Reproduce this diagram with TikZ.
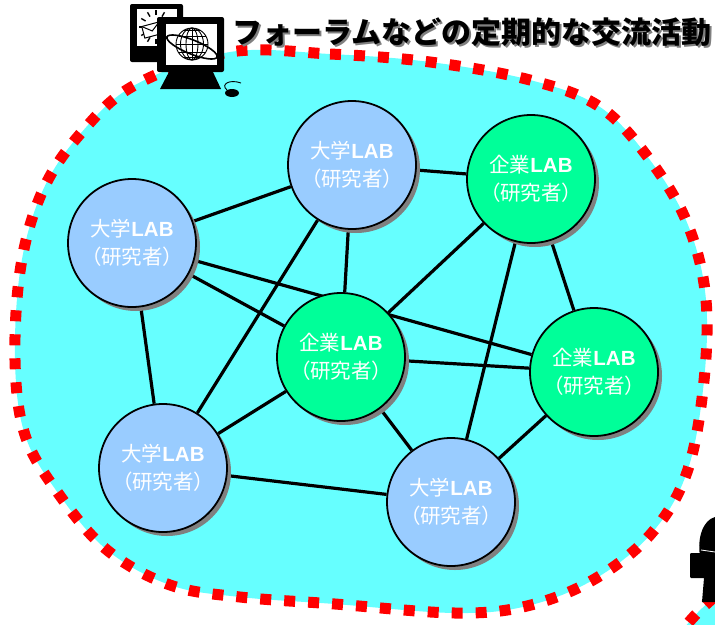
\documentclass[tikz,border=0pt]{standalone}
\usepackage{fontspec}
\newfontfamily\jpfont{Noto Sans CJK JP}
\newfontfamily\jppfont{Noto Sans CJK JP}[RawFeature=+palt]
\newfontfamily\latinfont{Liberation Sans}
\usetikzlibrary{shadows,backgrounds}

\definecolor{areacyan}{HTML}{66FFFF}
\definecolor{dashred}{HTML}{FF0000}
\definecolor{univblue}{HTML}{99CCFF}
\definecolor{corpgreen}{HTML}{00FF99}
\definecolor{shadowgray}{HTML}{808080}

\tikzset{
  lab/.style={circle, draw=black, line width=1.8pt, minimum size=128pt, inner sep=0pt,
    text=white, align=center,
    font=\fontsize{20.5}{28}\selectfont,
    drop shadow={shadow xshift=4pt, shadow yshift=-4pt, fill=shadowgray, opacity=1}},
  univ/.style={lab, fill=univblue},
  corp/.style={lab, fill=corpgreen},
  link/.style={line width=3.2pt, black},
  border/.style={dashred, line width=11pt, dash pattern=on 11pt off 13pt},
}
\newcommand{\univtext}{{\jpfont 大学}{\latinfont\bfseries LAB}\\{\jppfont （研究者）}}
\newcommand{\corptext}{{\jpfont 企業}{\latinfont\bfseries LAB}\\{\jppfont （研究者）}}
% text with a soft gray drop shadow behind it
\newcommand{\shadowed}[1]{\makebox[0pt][l]{\hspace{2pt}\raisebox{-2.5pt}{\textcolor{shadowgray}{#1}}}#1}

\begin{document}
\begin{tikzpicture}[x=1pt,y=-1pt]
\useasboundingbox (0,0) rectangle (715,624);

% research labs
\node[univ] (u1) at (352,165) {\univtext};
\node[corp] (c1) at (531,179) {\corptext};
\node[univ] (u0) at (132,243) {\univtext};
\node[corp] (c0) at (341,357) {\corptext};
\node[corp] (c2) at (594,372) {\corptext};
\node[univ] (u2) at (163,468) {\univtext};
\node[univ] (u3) at (451,502) {\univtext};

\begin{scope}[on background layer]
  % exchange area
  \def\areapath{plot[smooth cycle, tension=0.6] coordinates {
    (230,52) (330,54) (430,62) (530,80) (600,107) (650,160) (688,225) (706,300)
    (703,390) (686,475) (650,535) (593,580) (527,606) (455,613) (335,604)
    (240,597) (170,585) (107,550) (58,493) (25,435) (15,360) (21,265)
    (43,190) (81,133) (135,85)}}
  \fill[areacyan] \areapath;
  \draw[border] \areapath;
  % neighbouring area at the lower right
  \begin{scope}
    \clip (0,0) rectangle (715,624);
    \fill[areacyan] (850,760) circle[radius=212];
    \draw[border] (850,760) circle[radius=212];
  \end{scope}
  % links between labs
  \draw[link] (u0) -- (u1);
  \draw[link] (u1) -- (c1);
  \draw[link] (u1) -- (c0);
  \draw[link] (u1) -- (u2);
  \draw[link] (u0) -- (c2);
  \draw[link] (u0) -- (c0);
  \draw[link] (u0) -- (u2);
  \draw[link] (c1) -- (c0);
  \draw[link] (c1) -- (u3);
  \draw[link] (c1) -- (c2);
  \draw[link] (c0) -- (c2);
  \draw[link] (c0) -- (u2);
  \draw[link] (c0) -- (u3);
  \draw[link] (u2) -- (u3);
  \draw[link] (c2) -- (u3);
\end{scope}

% title
\node[text=black, font=\jpfont\bfseries\fontsize{30}{30}\selectfont] (title) at (472,33)
  {\shadowed{フォーラムなどの定期的な交流活動}};

% back monitor with clock and mail
\fill[black, rounded corners=2pt] (130,4) rectangle (183,62);
\fill[white] (137,9) rectangle (177,46);
\foreach \a in {0,30,...,330} \draw[black, line width=1.4pt] (156,27) ++(\a:12) -- ++(\a:5);
\fill[white, draw=black, line width=1pt, rotate around={15:(152,30)}] (143,24) rectangle (161,36);
\draw[black, line width=1pt, rotate around={15:(152,30)}] (143,24) -- (152,31) -- (161,24);

% front monitor with globe
\fill[black, rounded corners=2pt] (157,17) rectangle (224,72);
\fill[black] (170,70) -- (212,70) -- (221,89) -- (160,89) -- cycle;
\fill[white] (166,24) rectangle (217,65);
\begin{scope}[black, line width=0.9pt]
  \draw (192,44) circle[radius=16];
  \draw (192,44) ellipse[x radius=6, y radius=16];
  \draw (192,44) ellipse[x radius=11.5, y radius=16];
  \draw (192,28) -- (192,60);
  \draw (176,44) -- (208,44);
  \draw (178.5,36) -- (205.5,36);
  \draw (178.5,52) -- (205.5,52);
  \draw (183,30.5) -- (201,30.5);
  \draw (183,57.5) -- (201,57.5);
  \draw[line width=1.6pt, rotate around={-22:(192,47)}] (192,47) ellipse[x radius=27, y radius=7];
\end{scope}
% mouse and cord
\fill[black] (232,93) ellipse[x radius=7, y radius=4];
\draw[black, line width=0.9pt] (227,90) .. controls (220,84) and (230,79) .. (241,83);

% person at a desk, lower right
\fill[black] (715,517) .. controls (703,520) and (697,538) .. (700,556) -- (715,560) -- cycle;
\draw[white, line width=0.8pt] (701,550) -- (715,552);
\fill[black, rounded corners=1pt] (690,553) rectangle (716,578);
\fill[black] (704,578) -- (716,578) -- (716,602) -- (702,602) -- cycle;
\end{tikzpicture}
\end{document}
